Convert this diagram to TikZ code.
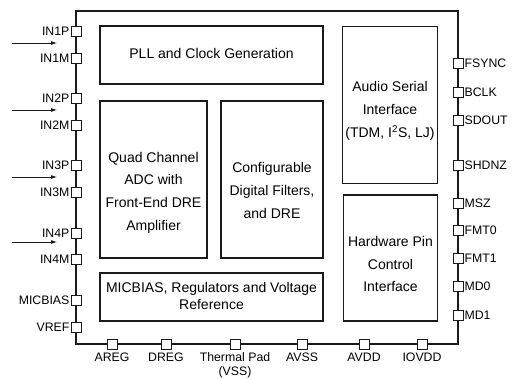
\documentclass[tikz,border=0pt]{standalone}
\usepackage{fontspec}
\setmainfont{Liberation Sans}
\usetikzlibrary{positioning,arrows.meta}
\definecolor{blk}{HTML}{1A1A1A}
\tikzset{
  >={Latex[length=6pt,width=4pt]},
  chip/.style={draw=blk, line width=1.2pt, inner sep=0pt},
  block/.style={draw=blk, line width=1.3pt, inner sep=0pt},
  btxt/.style={inner sep=0pt, align=center, font=\fontsize{14}{22.7}\selectfont},
  pad/.style={draw=blk, fill=white, line width=0.8pt, minimum size=10pt, inner sep=0pt},
  lbl/.style={font=\fontsize{12.3}{14}\selectfont, inner sep=1pt, align=center},
  l/.style={->, line width=0.8pt, draw=blk},
}

\begin{document}
\begin{tikzpicture}[x=1pt, y=-1pt]
  \useasboundingbox (0,0) rectangle (513,379);
  % package outline
  \node[chip, minimum width=382pt, minimum height=333pt] (ic) at (267,177.5) {};
  % function blocks
  \node[block, minimum width=223pt, minimum height=58pt] (pll) at (211.5,55) {};
  \node[block, minimum width=107pt, minimum height=157pt] (adc) at (153.5,179.5) {};
  \node[block, minimum width=102pt, minimum height=157pt] (dsp) at (272,179.5) {};
  \node[block, minimum width=223pt, minimum height=48pt] (bias) at (211.5,297) {};
  \node[block, minimum width=95pt, minimum height=157pt] (asi) at (390,105) {};
  \node[block, minimum width=94pt, minimum height=126pt] (hw) at (390.5,258) {};
  \node[btxt] (pll-t) at ([yshift=2pt]pll.center) {PLL and Clock Generation};
  \node[btxt] (adc-t) at ([yshift=-13pt]adc.center) {Quad Channel\\ADC with\\Front-End DRE\\Amplifier};
  \node[btxt] (dsp-t) at ([yshift=-11pt]dsp.center) {Configurable\\Digital Filters,\\and DRE};
  \node[btxt, font=\fontsize{14}{17}\selectfont] (bias-t) at ([yshift=1pt]bias.center)
       {MICBIAS, Regulators and Voltage\\Reference};
  \node[btxt] (asi-t) at ([yshift=-6pt]asi.center) {Audio Serial\\Interface\\(TDM, I\textsuperscript{2}S, LJ)};
  \node[btxt] (hw-t) at ([yshift=-6pt]hw.center) {Hardware Pin\\Control\\Interface};
  % left pins
  \foreach \nm/\yy/\tx in {in1p/31/IN1P, in1m/58/IN1M, in2p/98/IN2P, in2m/125/IN2M,
                           in3p/165/IN3P, in3m/192/IN3M, in4p/233/IN4P, in4m/259/IN4M,
                           micb/300/MICBIAS, vref/327/VREF} {
    \node[pad] (\nm) at (76,\yy) {};
    \node[lbl, left=0pt of \nm] (\nm-t) {\tx};
  }
  % right pins
  \foreach \nm/\yy/\tx in {fsync/63/FSYNC, bclk/92/BCLK, sdout/120/SDOUT, shdnz/165/SHDNZ,
                           msz/203/MSZ, fmt0/230/FMT0, fmt1/258/FMT1, md0/286/MD0, md1/315/MD1} {
    \node[pad] (\nm) at (458,\yy) {};
    \node[lbl, right=0pt of \nm] (\nm-t) {\tx};
  }
  % bottom pins
  \foreach \nm/\xx/\tx in {areg/112/AREG, dreg/166/DREG, tpad/235/{Thermal Pad\\(VSS)},
                           avss/302/AVSS, avdd/364/AVDD, iovdd/422/IOVDD} {
    \node[pad] (\nm) at (\xx,344) {};
    \node[lbl, below=2pt of \nm, anchor=north] (\nm-t) {\tx};
  }
  % analog inputs
  \foreach \k/\yy in {1/43, 2/110, 3/177, 4/242} {
    \coordinate (s\k) at (12,\yy);
    \coordinate (e\k) at (57,\yy);
    \draw[l] (s\k) -- (e\k);
  }
\end{tikzpicture}
\end{document}
